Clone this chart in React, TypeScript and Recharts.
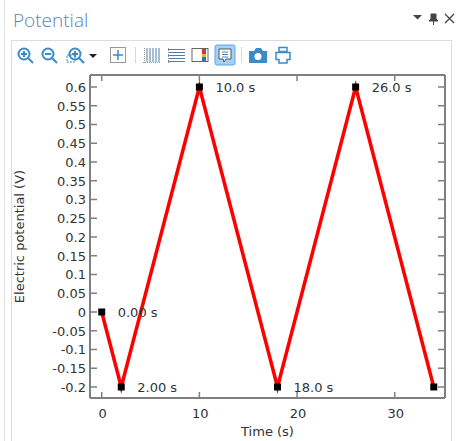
import { CartesianGrid, LabelList, Line, LineChart, XAxis, YAxis } from 'recharts';

const times = [0, 2, 10, 18, 26, 34];
const potentials = [0, -0.2, 0.6, -0.2, 0.6, -0.2];
const pointLabels = ['0.00 s', '2.00 s', '10.0 s', '18.0 s', '26.0 s', ''];
const xTicks = [0, 10, 20, 30];
const yTicks = [
  -0.2, -0.15, -0.1, -0.05, 0, 0.05, 0.1, 0.15, 0.2, 0.25, 0.3, 0.35, 0.4, 0.45, 0.5, 0.55, 0.6,
];

const chartData = times.map((t, i) => ({ t, v: potentials[i], label: pointLabels[i] }));

const FONT = '"DejaVu Sans", sans-serif';
const TEXT = '#333333';
const AXIS = '#7f7f7f';
const BLUE = '#3a8cc8';

function LeftTick({ x, y, payload }: any) {
  return (
    <g>
      <line x1={x} x2={x + 7} y1={y} y2={y} stroke={AXIS} strokeWidth={1.5} />
      <text x={x - 4} y={y + 5} textAnchor="end" fontSize={13} fontFamily={FONT} fill={TEXT}>
        {payload.value}
      </text>
    </g>
  );
}

function RightTick({ x, y }: any) {
  return <line x1={x - 7} x2={x} y1={y} y2={y} stroke={AXIS} strokeWidth={1.5} />;
}

function BottomTick({ x, y, payload }: any) {
  return (
    <g>
      <line x1={x} x2={x} y1={y - 6} y2={y} stroke={AXIS} strokeWidth={1.5} />
      <text x={x + 1} y={y + 20} textAnchor="middle" fontSize={13} fontFamily={FONT} fill={TEXT}>
        {payload.value}
      </text>
    </g>
  );
}

function TopTick({ x, y }: any) {
  return <line x1={x} x2={x} y1={y} y2={y + 6} stroke={AXIS} strokeWidth={1.5} />;
}

function SquareDot({ cx, cy }: any) {
  return <rect x={cx - 3.5} y={cy - 3.5} width={7} height={7} fill="#000" />;
}

function PointLabel({ x, y, value }: any) {
  return (
    <text x={x + 16} y={y + 5} fontSize={13} fontFamily={FONT} fill={TEXT}>
      {value}
    </text>
  );
}

function ToolIcons() {
  return (
    <svg width={456} height={70} style={{ position: 'absolute', left: 0, top: 0 }}>
      {/* zoom in, zoom out, box zoom */}
      <g fill="none" stroke={BLUE} strokeWidth={2}>
        <circle cx={24} cy={54} r={5.5} />
        <path d="M28 58l5 5M21 54h6M24 51v6" />
        <circle cx={48} cy={54} r={5.5} />
        <path d="M52 58l5 5M45 54h6" />
        <circle cx={75} cy={54} r={5.5} />
        <path d="M79 58l5 5M72 54h6M75 51v6" />
      </g>
      <rect x={67} y={55} width={8} height={7} fill="none" stroke={BLUE} strokeDasharray="2 1" />
      <path d="M89 54h8l-4 4z" fill="#222" />
      {/* zoom extents */}
      <rect x={110.5} y={47.5} width={15} height={15} fill="none" stroke="#999" />
      <path d="M118 50v10M113 55h10" stroke={BLUE} strokeWidth={1.5} />
      <path d="M135.5 47v16M241.5 47v16" stroke="#d8d8d8" />
      {/* grids */}
      <g stroke="#4f7ea6">
        <path d="M147 48v14M150 48v14M153 48v14M156 48v14M159 48v14" />
        <path d="M168 49.5h17M168 52.500h17M168 55.500h17M168 58.500h17M168 61.500h17" />
      </g>
      <path d="M144.500 48v15M143 62.500h18M168.500 48v15" stroke="#999" strokeDasharray="1 1" />
      {/* colour legend */}
      <rect x={192} y={48.5} width={16} height={13} fill="#fff" stroke="#666" />
      <rect x={202} y={49} width={4} height={5} fill="#d33" />
      <rect x={202} y={54} width={4} height={3} fill="#e8b030" />
      <rect x={202} y={57} width={4} height={4} fill="#3a6fb0" />
      {/* legend, selected */}
      <rect x={215} y={45} width={20} height={20} rx={2} fill="#a5d0f5" stroke="#5aa7e8" />
      <path d="M219 49h12v10h-5l-2 3-1-3h-4z" fill="#fff" stroke="#555" />
      <path d="M222 52h6M222 54.500h6M222 57h6" stroke={BLUE} />
      {/* camera */}
      <path d="M249 51h5l2-3h5l2 3h4v12h-18z" fill={BLUE} />
      <circle cx={258} cy={56.5} r={3.5} fill="#fff" />
      {/* printer */}
      <path d="M279 47.500h8v4h-8zM276 52.500h14v7h-3v3.500h-8v-3.500h-3z" fill="#fff" stroke={BLUE} strokeWidth={1.5} />
      {/* window buttons */}
      <path d="M413 15h9l-4.500 4.500z" fill="#444" />
      <path d="M431 14h5v5l2 2h-9l2-2zM433.500 21v4" fill="#444" stroke="#444" />
      <path d="M445 14l9 9M454 14l-9 9" stroke="#444" strokeWidth={1.3} />
    </svg>
  );
}

export default function App() {
  return (
    <div style={{ position: 'absolute', left: 0, top: 0, width: 456, height: 441, background: '#fff', overflow: 'hidden' }}>
      <div style={{ position: 'absolute', left: 4, top: 0, width: 1, height: 441, background: '#e2e2e2' }} />
      <div
        style={{
          position: 'absolute',
          left: 11,
          top: 40,
          width: 441,
          height: 402,
          border: '1px solid #dcdcdc',
          boxSizing: 'border-box',
        }}
      />
      <div
        style={{
          position: 'absolute',
          left: 13,
          top: 6,
          fontFamily: '"Open Sans", sans-serif',
          fontWeight: 300,
          fontSize: 19,
          color: '#5b83b5',
          lineHeight: '28px',
        }}
      >
        Potential
      </div>
      <ToolIcons />
      <div style={{ position: 'absolute', left: 0, top: 0 }}>
        <LineChart width={456} height={441} data={chartData} margin={{ top: 0, right: 0, bottom: 0, left: 0 }}>
          <CartesianGrid
            stroke="#e8e8e8"
            strokeWidth={2}
            horizontalValues={yTicks}
            verticalValues={xTicks}
          />
          <XAxis
            xAxisId="bottom"
            type="number"
            dataKey="t"
            domain={[-1.2, 35.15]}
            ticks={xTicks}
            height={43}
            allowDataOverflow
            interval={0}
            tickLine={false}
            tickSize={0}
            tickMargin={0}
            tick={<BottomTick />}
            axisLine={{ stroke: AXIS, strokeWidth: 2 }}
            label={{
              value: 'Time (s)',
              position: 'insideBottom',
              offset: 5,
              fontSize: 13,
              fontFamily: FONT,
              fill: TEXT,
            }}
          />
          <XAxis
            xAxisId="top"
            orientation="top"
            type="number"
            dataKey="t"
            domain={[-1.2, 35.15]}
            ticks={xTicks}
            height={75}
            allowDataOverflow
            interval={0}
            tickLine={false}
            tickSize={0}
            tickMargin={0}
            tick={<TopTick />}
            axisLine={{ stroke: AXIS, strokeWidth: 2 }}
          />
          <YAxis
            yAxisId="left"
            type="number"
            domain={[-0.2294, 0.632]}
            ticks={yTicks}
            width={90}
            allowDataOverflow
            interval={0}
            tickLine={false}
            tickSize={0}
            tickMargin={0}
            tick={<LeftTick />}
            axisLine={{ stroke: AXIS, strokeWidth: 2 }}
            label={{
              value: 'Electric potential (V)',
              angle: -90,
              position: 'insideLeft',
              offset: 19,
              style: { textAnchor: 'middle' },
              fontSize: 13,
              fontFamily: FONT,
              fill: TEXT,
            }}
          />
          <YAxis
            yAxisId="right"
            orientation="right"
            type="number"
            domain={[-0.2294, 0.632]}
            ticks={yTicks}
            width={11}
            allowDataOverflow
            interval={0}
            tickLine={false}
            tickSize={0}
            tickMargin={0}
            tick={<RightTick />}
            axisLine={{ stroke: AXIS, strokeWidth: 2 }}
          />
          <Line
            xAxisId="bottom"
            yAxisId="left"
            dataKey="v"
            type="linear"
            stroke="#ff0000"
            strokeWidth={3.5}
            dot={<SquareDot />}
            activeDot={false}
            isAnimationActive={false}
          >
            <LabelList dataKey="label" content={<PointLabel />} />
          </Line>
        </LineChart>
      </div>
    </div>
  );
}
